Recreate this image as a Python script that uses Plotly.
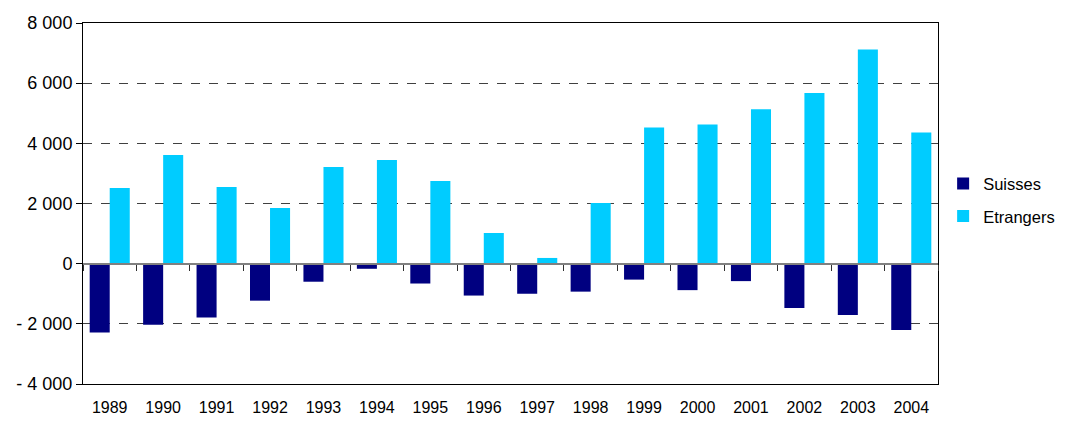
import plotly.graph_objects as go

years = ["1989", "1990", "1991", "1992", "1993", "1994", "1995", "1996",
         "1997", "1998", "1999", "2000", "2001", "2002", "2003", "2004"]
suisses = [-2290, -2030, -1790, -1230, -600, -170, -660, -1060,
           -1000, -930, -530, -880, -580, -1475, -1710, -2205]
etrangers = [2515, 3610, 2550, 1850, 3210, 3445, 2750, 1020,
             190, 2015, 4530, 4630, 5130, 5670, 7120, 4360]
y_ticks = [-4000, -2000, 0, 2000, 4000, 6000, 8000]
y_ticktext = ["- 4 000", "- 2 000", "0", "2 000", "4 000", "6 000", "8 000"]
y_min, y_max = -4000, 8000

font_family = "Liberation Sans, Arial, sans-serif"

fig = go.Figure()
fig.add_trace(go.Bar(x=years, y=suisses, name="Suisses", marker_color="#000080",
                     marker_line_width=0, legendgroup="a"))
fig.add_trace(go.Bar(x=years, y=etrangers, name="Etrangers", marker_color="#00CCFF",
                     marker_line_width=0, legendgroup="b"))
# invisible trace bound to the zero-crossing axis
fig.add_trace(go.Bar(x=years, y=[0] * len(years), xaxis="x2", showlegend=False,
                     marker_color="rgba(0,0,0,0)", hoverinfo="skip"))

fig.update_layout(
    width=1057, height=417,
    margin=dict(l=75, r=127, t=15, b=41, autoexpand=False),
    paper_bgcolor="white", plot_bgcolor="white",
    barmode="group", bargap=0.25, bargroupgap=0,
    font=dict(family=font_family, size=18, color="black"),
    showlegend=True,
    legend=dict(x=1.006, y=0.51, xanchor="left", yanchor="middle",
                font=dict(size=16.5), tracegroupgap=8, itemwidth=30,
                borderwidth=0, bgcolor="rgba(0,0,0,0)"),
    xaxis=dict(type="category", showline=True, linecolor="black", linewidth=1,
               mirror=True, ticks="outside", ticklen=9, tickcolor="rgba(0,0,0,0)",
               showgrid=False, tickfont=dict(size=16), automargin=False),
    xaxis2=dict(type="category", matches="x", overlaying="x", anchor="free",
                position=(0 - y_min) / (y_max - y_min),
                showline=True, linecolor="#808080", linewidth=2,
                ticks="outside", tickson="boundaries", ticklen=6,
                tickcolor="#303030", tickwidth=1,
                showticklabels=False, showgrid=False, automargin=False),
    yaxis=dict(range=[y_min, y_max], tickvals=y_ticks, ticktext=y_ticktext,
               showline=True, linecolor="black", linewidth=1, mirror=True,
               ticks="outside", ticklen=6, tickcolor="black",
               showgrid=True, gridcolor="#404040", griddash="dash", gridwidth=1,
               zeroline=False, tickfont=dict(size=18), automargin=False),
)

fig.write_html("out.html")
